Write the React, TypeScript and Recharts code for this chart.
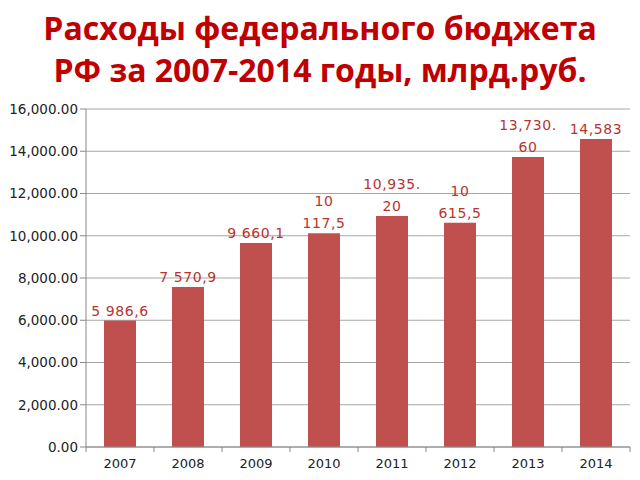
import React from 'react';
import { BarChart, Bar, XAxis, YAxis, CartesianGrid, LabelList } from 'recharts';

const years = ['2007', '2008', '2009', '2010', '2011', '2012', '2013', '2014'];
const spending = [5986.6, 7570.9, 9660.1, 10117.5, 10935.2, 10615.5, 13730.6, 14583];
// labels as printed on the slide (mixed formats, some wrapped)
const valueLabels = ['5 986,6', '7 570,9', '9 660,1', '10\n117,5', '10,935.\n20', '10\n615,5', '13,730.\n60', '14,583'];
const yTicks = [0, 2000, 4000, 6000, 8000, 10000, 12000, 14000, 16000];

const data = years.map((year, i) => ({ year, value: spending[i], label: valueLabels[i] }));

const labelFont = '"DejaVu Sans", sans-serif';

const BarLabel = (props: any) => {
  const { x, y, width, index } = props;
  const lines = valueLabels[index].split('\n');
  const cx = x + width / 2;
  return (
    <text x={cx} textAnchor="middle" fill="#b8342e" fontSize={14} fontFamily={labelFont} letterSpacing={0.6}>
      {lines.map((line, i) => (
        <tspan key={i} x={cx} y={y - 5 - (lines.length - 1 - i) * 22}>
          {line}
        </tspan>
      ))}
    </text>
  );
};

const YearTick = (props: any) => {
  const { x, y, payload, index } = props;
  const half = 34;
  return (
    <g>
      <line x1={x - half} y1={y - 8} x2={x - half} y2={y - 3} stroke="#888" />
      {index === years.length - 1 && <line x1={x + half} y1={y - 8} x2={x + half} y2={y - 3} stroke="#888" />}
      <text x={x} y={y + 13} textAnchor="middle" fill="#222" fontSize={13} fontFamily={labelFont}>
        {payload.value}
      </text>
    </g>
  );
};

const fmt = (v: number) =>
  v.toLocaleString('en-US', { minimumFractionDigits: 2, maximumFractionDigits: 2 });

const titleStyle: React.CSSProperties = {
  position: 'absolute',
  left: 0,
  width: 640,
  textAlign: 'center',
  color: '#c00000',
  fontFamily: '"Open Sans", sans-serif',
  fontWeight: 700,
  fontSize: 32,
  lineHeight: '36px',
  whiteSpace: 'nowrap',
};

export default function App() {
  return (
    <div style={{ position: 'absolute', left: 0, top: 0, width: 640, height: 480, background: '#fff' }}>
      <div style={{ ...titleStyle, top: 10 }}>Расходы федерального бюджета</div>
      <div style={{ ...titleStyle, top: 52 }}>РФ за 2007-2014 годы, млрд.руб.</div>
      <div style={{ position: 'absolute', left: 0, top: 0 }}>
        <BarChart width={640} height={480} data={data} margin={{ top: 109, right: 10, left: 8, bottom: 3 }} barSize={32}>
          <CartesianGrid vertical={false} stroke="#a6a6a6" />
          <XAxis
            dataKey="year"
            stroke="#888"
            tickLine={false}
            height={30}
            tick={<YearTick />}
            interval={0}
          />
          <YAxis
            width={78}
            domain={[0, 16000]}
            ticks={yTicks}
            tickFormatter={fmt}
            stroke="#888"
            tickSize={6}
            tick={{ fill: '#222', fontSize: 13.5, fontFamily: labelFont }}
          />
          <Bar dataKey="value" fill="#c0504d" isAnimationActive={false}>
            <LabelList dataKey="label" content={<BarLabel />} />
          </Bar>
        </BarChart>
      </div>
    </div>
  );
}
